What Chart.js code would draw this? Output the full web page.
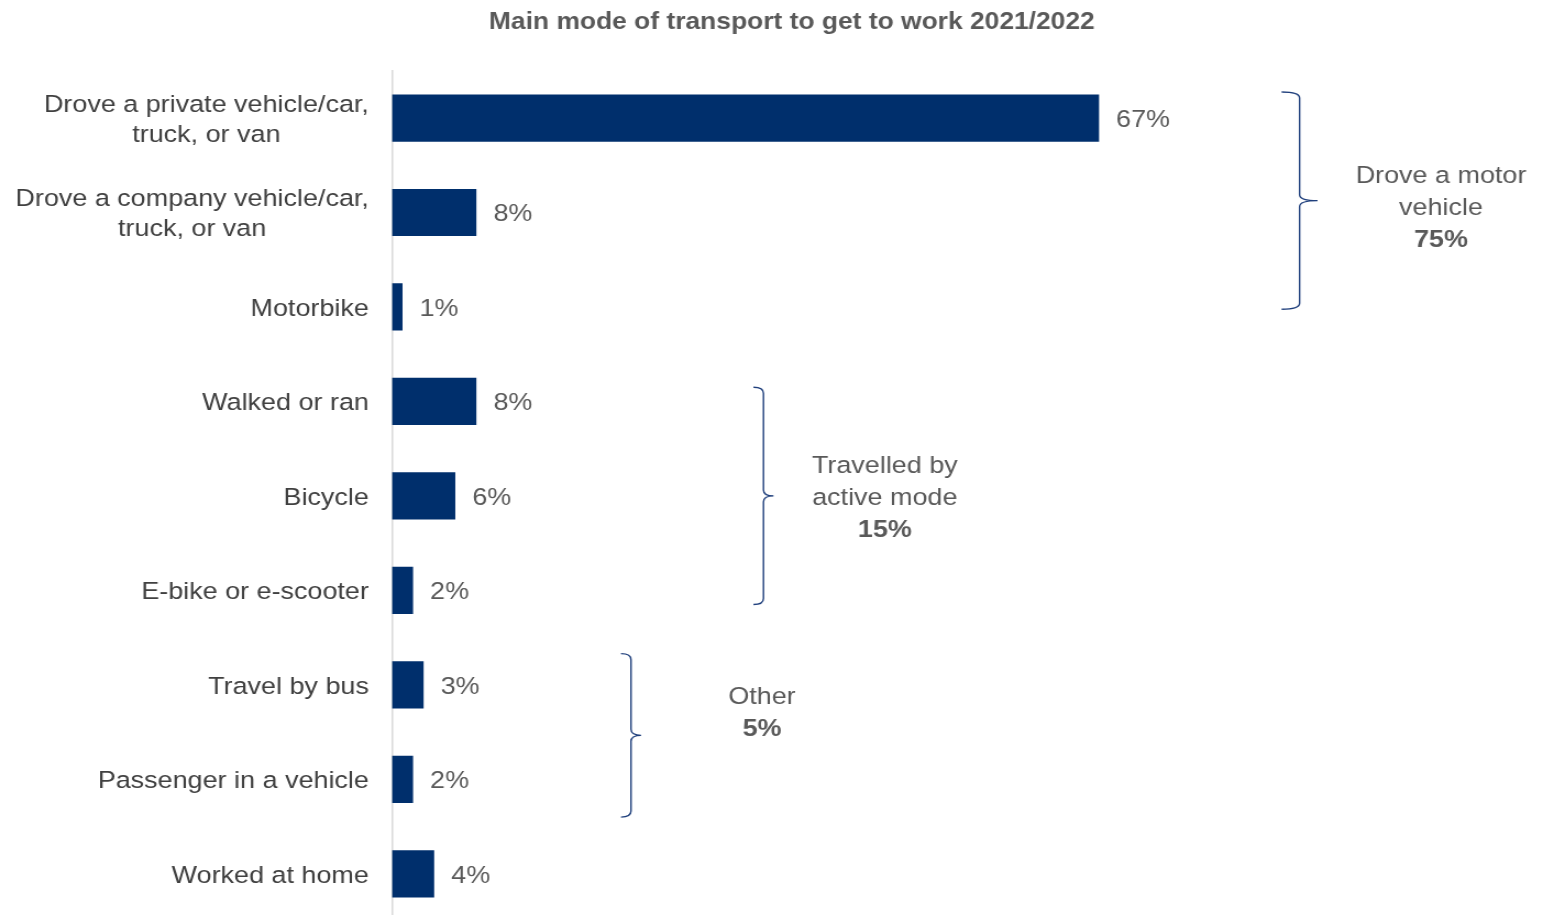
<!DOCTYPE html>
<html>
<head>
<meta charset="utf-8">
<script src="https://cdn.jsdelivr.net/npm/chart.js@4.4.0/dist/chart.umd.min.js"></script>
<style>
html, body { margin: 0; padding: 0; background: #fff; overflow: hidden; }
#wrap { width: 1413px; height: 921px; transform: scaleX(1.0998); transform-origin: 0 0; }
</style>
</head>
<body>
<div id="wrap"><canvas id="modeChart" width="1413" height="921"></canvas></div>
<script>
var modes = [
    ["Drove a private vehicle/car,", "truck, or van"],
    ["Drove a company vehicle/car,", "truck, or van"],
    "Motorbike",
    "Walked or ran",
    "Bicycle",
    "E-bike or e-scooter",
    "Travel by bus",
    "Passenger in a vehicle",
    "Worked at home"
];
var shares = [67, 8, 1, 8, 6, 2, 3, 2, 4];

var groupNames = [["Drove a motor", "vehicle"], ["Travelled by", "active mode"], ["Other"]];
var groupTotals = ["75%", "15%", "5%"];

var NAVY = "#002f6c";
var GREY = "#595959";
var FONT = '"Liberation Sans", Arial, sans-serif';

// brace placement: top/bottom/textY in category units, x/arm/textX in percent units
var braceLayout = [
    { top: -0.275, bottom: 2.024, x: 86.0, arm: 1.7, textX: 99.4, textY: 0.955 },
    { top: 2.85, bottom: 5.15, x: 35.2, arm: 0.95, textX: 46.7, textY: 4.028 },
    { top: 5.67, bottom: 7.40, x: 22.65, arm: 0.95, textX: 35.06, textY: 6.306 }
];

function drawBrace(ctx, xl, xv, xt, top, bottom) {
    var mid = (top + bottom) / 2;
    var r = 6;
    ctx.beginPath();
    ctx.moveTo(xl, top);
    ctx.quadraticCurveTo(xv, top, xv, top + r);
    ctx.lineTo(xv, mid - r);
    ctx.quadraticCurveTo(xv, mid, xt, mid);
    ctx.quadraticCurveTo(xv, mid, xv, mid + r);
    ctx.lineTo(xv, bottom - r);
    ctx.quadraticCurveTo(xv, bottom, xl, bottom);
    ctx.stroke();
}

var annotations = {
    id: "annotations",
    afterDatasetsDraw: function (chart) {
        var ctx = chart.ctx;
        var xs = chart.scales.x;
        var ys = chart.scales.y;
        ctx.save();
        ctx.font = "24.5px " + FONT;
        ctx.textBaseline = "middle";

        // category names: block sits against the axis, lines centred inside it
        ctx.fillStyle = "#404040";
        ctx.textAlign = "center";
        modes.forEach(function (m, i) {
            var lines = [].concat(m);
            var w = Math.max.apply(null, lines.map(function (l) { return ctx.measureText(l).width; }));
            var cx = ys.right - 21 - w / 2;
            var cy = ys.getPixelForValue(i) + 2;
            lines.forEach(function (l, k) {
                ctx.fillText(l, cx, cy + (k - (lines.length - 1) / 2) * 30);
            });
        });

        // value labels at the end of each bar
        ctx.fillStyle = GREY;
        ctx.textAlign = "left";
        chart.getDatasetMeta(0).data.forEach(function (bar, i) {
            ctx.fillText(shares[i] + "%", bar.x + 15.5, bar.y + 2);
        });

        // group braces and their captions
        ctx.strokeStyle = "#1f3f7c";
        ctx.lineWidth = 1.4;
        braceLayout.forEach(function (b, g) {
            var xv = xs.getPixelForValue(b.x);
            var xl = xs.getPixelForValue(b.x - b.arm);
            var xt = xs.getPixelForValue(b.x + b.arm);
            drawBrace(ctx, xl, xv, xt, ys.getPixelForValue(b.top), ys.getPixelForValue(b.bottom));

            var lines = groupNames[g].concat([groupTotals[g]]);
            var tx = xs.getPixelForValue(b.textX);
            var ty = ys.getPixelForValue(b.textY);
            ctx.textAlign = "center";
            lines.forEach(function (l, k) {
                var last = k === lines.length - 1;
                ctx.font = (last ? "bold " : "") + "24.5px " + FONT;
                ctx.fillStyle = GREY;
                ctx.fillText(l, tx, ty + (k - (lines.length - 1) / 2) * 32);
            });
        });
        ctx.restore();
    }
};

new Chart(document.getElementById("modeChart"), {
    type: "bar",
    data: {
        labels: modes,
        datasets: [{
            data: shares,
            backgroundColor: NAVY,
            categoryPercentage: 1,
            barPercentage: 0.5
        }]
    },
    options: {
        indexAxis: "y",
        responsive: false,
        animation: false,
        layout: { padding: { left: 124, right: 97, top: 0, bottom: 0 } },
        plugins: {
            legend: { display: false },
            tooltip: { enabled: false },
            title: {
                display: true,
                text: "Main mode of transport to get to work 2021/2022",
                color: GREY,
                font: { family: FONT, size: 24, weight: "bold" },
                padding: { top: 8, bottom: 34 }
            }
        },
        scales: {
            x: { display: false, min: 0, max: 100 },
            y: {
                ticks: { display: false },
                grid: { display: false },
                border: { display: true, color: "#d9d9d9", width: 1.5 },
                afterFit: function (scale) { scale.width = 232.4; }
            }
        }
    },
    plugins: [annotations]
});
</script>
</body>
</html>
